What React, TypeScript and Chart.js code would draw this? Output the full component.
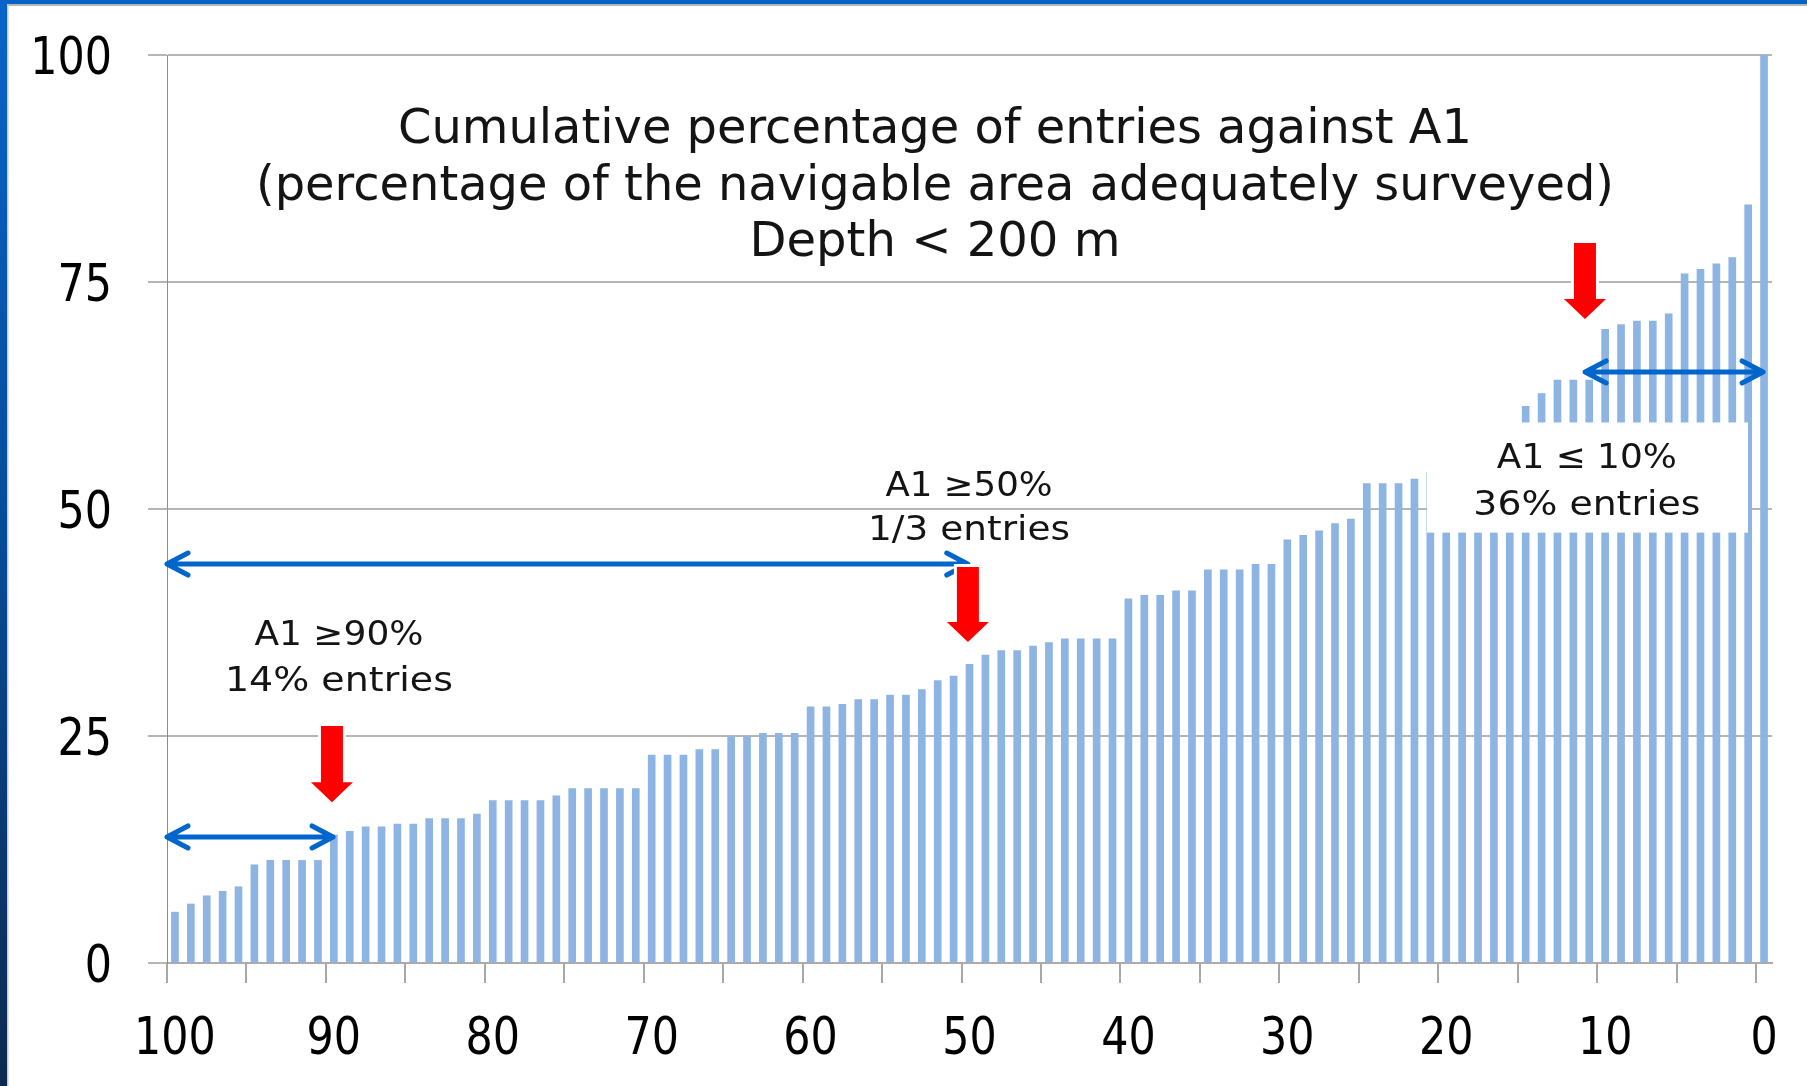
import React, { useEffect, useRef } from 'react';
import { Chart, registerables } from 'chart.js';

Chart.register(...registerables);

// ---- DATA ----
// Cumulative percentage (A1) for each entry, sorted, left (100) to right (0)
const entryValues: number[] = [
  5.6, 6.5, 7.4, 7.9, 8.4, 10.8, 11.3, 11.3, 11.3, 11.3,
  14.1, 14.5, 15.0, 15.0, 15.3, 15.3, 15.9, 15.9, 15.9, 16.4,
  17.9, 17.9, 17.9, 17.9, 18.4, 19.2, 19.2, 19.2, 19.2, 19.2,
  22.9, 22.9, 22.9, 23.5, 23.5, 24.9, 24.9, 25.3, 25.3, 25.3,
  28.2, 28.2, 28.5, 29.0, 29.0, 29.5, 29.5, 30.1, 31.1, 31.6,
  32.9, 33.9, 34.4, 34.4, 34.9, 35.3, 35.7, 35.7, 35.7, 35.7,
  40.1, 40.5, 40.5, 41.0, 41.0, 43.3, 43.3, 43.3, 43.9, 43.9,
  46.6, 47.1, 47.6, 48.4, 48.9, 52.8, 52.8, 52.8, 53.3, 54.0,
  55.0, 56.5, 57.5, 58.5, 59.0, 61.3, 62.7, 64.2, 64.2, 64.2,
  69.8, 70.3, 70.7, 70.7, 71.5, 75.9, 76.4, 77.0, 77.7, 83.5,
  100.0,
];
const xTickLabels: string[] = ['100', '90', '80', '70', '60', '50', '40', '30', '20', '10', '0'];
const xTickMarkStep = 5;
const yTickValues: number[] = [0, 25, 50, 75, 100];
const titleLines: string[] = [
  'Cumulative percentage of entries against A1',
  '(percentage of the navigable area adequately surveyed)',
  'Depth < 200 m',
];
const annotationTexts: string[][] = [
  ['A1 \u226590%', '14% entries'],
  ['A1 \u226550%', '1/3 entries'],
  ['A1 \u2264 10%', '36% entries'],
];

// ---- LAYOUT (data-space anchors, pixel sizes) ----
const FONT = '"DejaVu Sans", Verdana, sans-serif';
const titleLayout = { u: 48.33, lines: [
  { v: 90.31, size: 48, width: 1074 },
  { v: 84.03, size: 48, width: 1358 },
  { v: 77.86, size: 48, width: 371 },
] };
const annotationLayout = [
  { u: 10.82, lines: [{ v: 35.02, size: 33, width: 169 }, { v: 29.96, size: 34, width: 228 }] },
  { u: 50.47, lines: [{ v: 51.43, size: 33, width: 167 }, { v: 46.59, size: 34, width: 202 }] },
  { u: 89.35, lines: [{ v: 54.47, size: 34, width: 180 }, { v: 49.35, size: 34, width: 227 }] },
];
const whiteBox = { u1: 79.29, u2: 99.49, v1: 59.53, v2: 47.4 };
const blueArrows = [
  { u1: 0, u2: 10.45, v: 13.88 },
  { u1: 0, u2: 50.39, v: 43.94 },
  { u1: 89.24, u2: 100.44, v: 65.09 },
];
const redArrows = [
  { u: 10.38, vTop: 26.1, vTip: 17.7 },
  { u: 50.4, vTop: 43.6, vTip: 35.35 },
  { u: 89.23, vTop: 79.3, vTip: 70.93 },
];

function drawFitted(ctx: CanvasRenderingContext2D, text: string, cx: number, y: number, size: number, width: number) {
  ctx.save();
  ctx.font = `${size}px ${FONT}`;
  const w = ctx.measureText(text).width || 1;
  ctx.translate(cx, y);
  ctx.scale(width / w, 1);
  ctx.textAlign = 'center';
  ctx.textBaseline = 'alphabetic';
  ctx.fillStyle = '#141414';
  ctx.fillText(text, 0, 0);
  ctx.restore();
}

function drawScaledLabel(ctx: CanvasRenderingContext2D, text: string, x: number, baseline: number, align: CanvasTextAlign) {
  ctx.save();
  ctx.font = `51px ${FONT}`;
  ctx.translate(x, baseline);
  ctx.scale(0.84, 1);
  ctx.textAlign = align;
  ctx.textBaseline = 'alphabetic';
  ctx.fillStyle = '#000000';
  ctx.fillText(text, 0, 0);
  ctx.restore();
}

const framePlugin = {
  id: 'slideFrame',
  beforeDraw(chart: any) {
    const ctx: CanvasRenderingContext2D = chart.ctx;
    const W = chart.width, H = chart.height;
    ctx.save();
    ctx.fillStyle = '#FFFFFF';
    ctx.fillRect(0, 0, W, H);
    ctx.fillStyle = '#0563C6';
    ctx.fillRect(0, 0, W, 4);
    ctx.fillStyle = '#B5B5B5';
    ctx.fillRect(0, 4, W, 2);
    const g = ctx.createLinearGradient(0, 0, 0, H);
    g.addColorStop(0, '#0A64C8');
    g.addColorStop(0.5, '#064B98');
    g.addColorStop(1, '#0C2A4E');
    ctx.fillStyle = g;
    ctx.fillRect(0, 0, 7, H);
    ctx.fillStyle = '#C8C8C8';
    ctx.fillRect(7, 4, 1.5, H);
    ctx.restore();
  },
};

const overlayPlugin = {
  id: 'overlay',
  afterDraw(chart: any) {
    const ctx: CanvasRenderingContext2D = chart.ctx;
    const xs = chart.scales.x, ys = chart.scales.y;
    const px = (u: number) => xs.getPixelForValue(u);
    const py = (v: number) => ys.getPixelForValue(v);

    // axis tick labels
    xTickLabels.forEach((lab, k) => {
      drawScaledLabel(ctx, lab, px(k * 10 + 0.5), xs.bottom - 32, 'center');
    });
    yTickValues.forEach((v) => {
      drawScaledLabel(ctx, String(v), ys.left + 112, py(v) + 18.5, 'right');
    });

    // white text box
    ctx.save();
    ctx.fillStyle = '#FFFFFF';
    ctx.fillRect(px(whiteBox.u1), py(whiteBox.v1), px(whiteBox.u2) - px(whiteBox.u1), py(whiteBox.v2) - py(whiteBox.v1));
    ctx.restore();

    // title
    titleLines.forEach((t, i) => {
      const l = titleLayout.lines[i];
      drawFitted(ctx, t, px(titleLayout.u), py(l.v), l.size, l.width);
    });
    // annotations
    annotationTexts.forEach((lines, a) => {
      const lay = annotationLayout[a];
      lines.forEach((t, i) => {
        const l = lay.lines[i];
        drawFitted(ctx, t, px(lay.u), py(l.v), l.size, l.width);
      });
    });

    // blue double arrows
    ctx.save();
    ctx.strokeStyle = '#0066CC';
    ctx.lineWidth = 5;
    ctx.lineCap = 'round';
    ctx.lineJoin = 'round';
    blueArrows.forEach((b) => {
      const x1 = px(b.u1), x2 = px(b.u2), y = py(b.v);
      ctx.beginPath();
      ctx.moveTo(x1, y); ctx.lineTo(x2, y);
      ctx.moveTo(x1 + 21, y - 11); ctx.lineTo(x1, y); ctx.lineTo(x1 + 21, y + 11);
      ctx.moveTo(x2 - 21, y - 11); ctx.lineTo(x2, y); ctx.lineTo(x2 - 21, y + 11);
      ctx.stroke();
    });
    ctx.restore();

    // red down arrows
    ctx.save();
    redArrows.forEach((r) => {
      const cx = px(r.u), yTop = py(r.vTop), yTip = py(r.vTip);
      const sw = 11, hw = 21, hl = 20;
      ctx.beginPath();
      ctx.moveTo(cx - sw, yTop);
      ctx.lineTo(cx + sw, yTop);
      ctx.lineTo(cx + sw, yTip - hl);
      ctx.lineTo(cx + hw, yTip - hl);
      ctx.lineTo(cx, yTip);
      ctx.lineTo(cx - hw, yTip - hl);
      ctx.lineTo(cx - sw, yTip - hl);
      ctx.closePath();
      ctx.lineJoin = 'miter';
      ctx.strokeStyle = '#FFFFFF';
      ctx.lineWidth = 6;
      ctx.stroke();
      ctx.fillStyle = '#FF0000';
      ctx.fill();
    });
    ctx.restore();
  },
};

export default function App() {
  const canvasRef = useRef<HTMLCanvasElement | null>(null);

  useEffect(() => {
    if (!canvasRef.current) return;
    const xTickPositions: number[] = [];
    for (let u = 0; u <= 100; u += xTickMarkStep) xTickPositions.push(u);

    const chart = new Chart(canvasRef.current, {
      type: 'bar',
      data: {
        datasets: [
          {
            data: entryValues.map((v, i) => ({ x: i + 0.5, y: v })),
            backgroundColor: '#8DB4E2',
            borderWidth: 0,
            barThickness: 7,
          } as any,
        ],
      },
      options: {
        responsive: false,
        maintainAspectRatio: false,
        animation: false,
        devicePixelRatio: 1,
        layout: { padding: { left: 0, top: 55, right: 35, bottom: 0 } },
        plugins: {
          legend: { display: false },
          tooltip: { enabled: false },
          title: { display: false },
        },
        scales: {
          x: {
            type: 'linear',
            min: 0,
            max: 101,
            offset: false,
            afterBuildTicks: (s: any) => {
              s.ticks = xTickPositions.map((v) => ({ value: v }));
            },
            afterFit: (s: any) => {
              s.height = 123;
            },
            grid: {
              offset: false,
              drawOnChartArea: false,
              drawTicks: true,
              tickLength: 20,
              color: '#A8A8A8',
              lineWidth: 2,
            },
            border: { display: true, color: '#ABABAB', width: 2 },
            ticks: { display: false },
          },
          y: {
            type: 'linear',
            min: 0,
            max: 100,
            afterBuildTicks: (s: any) => {
              s.ticks = yTickValues.map((v) => ({ value: v }));
            },
            afterFit: (s: any) => {
              s.width = 167;
            },
            grid: {
              color: '#B5B5B5',
              lineWidth: 2,
              drawTicks: true,
              tickLength: 19,
            },
            border: { display: true, color: '#8C8C8C', width: 1 },
            ticks: { display: false },
          },
        },
      } as any,
      plugins: [framePlugin, overlayPlugin],
    });
    return () => chart.destroy();
  }, []);

  return (
    <div style={{ position: 'fixed', left: 0, top: 0, width: 1807, height: 1086, background: '#FFFFFF' }}>
      <canvas ref={canvasRef} width={1807} height={1086} style={{ display: 'block', width: 1807, height: 1086 }} />
    </div>
  );
}
